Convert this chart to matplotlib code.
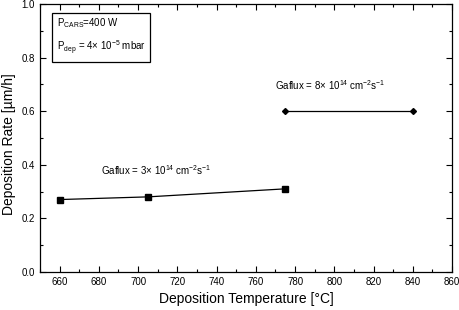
import matplotlib
matplotlib.use("Agg")
import matplotlib.pyplot as plt
from matplotlib.ticker import MultipleLocator

plt.rcParams['font.family'] = ['Liberation Sans', 'DejaVu Sans']
plt.rcParams['mathtext.fontset'] = 'custom'
plt.rcParams['mathtext.rm'] = 'Liberation Sans'

# low Ga flux series
temp_low = [660, 705, 775]
rate_low = [0.27, 0.28, 0.31]
# high Ga flux series
temp_high = [775, 840]
rate_high = [0.60, 0.60]

fig = plt.figure(figsize=(4.59, 3.10), dpi=100)
ax = fig.add_axes([0.087, 0.123, 0.898, 0.864])

ax.plot(temp_low, rate_low, color='black', lw=0.9, marker='s', ms=4)
ax.plot(temp_high, rate_high, color='black', lw=0.9, marker='D', ms=3)

ax.set_xlim(650, 860)
ax.set_ylim(0.0, 1.0)
ax.xaxis.set_major_locator(MultipleLocator(20))
ax.xaxis.set_minor_locator(MultipleLocator(10))
ax.yaxis.set_major_locator(MultipleLocator(0.2))
ax.yaxis.set_minor_locator(MultipleLocator(0.1))
ax.yaxis.set_major_formatter(matplotlib.ticker.FormatStrFormatter('%.1f'))
ax.tick_params(which='both', direction='in', top=True, right=True, labelsize=7, width=0.8)
ax.tick_params(which='major', length=4)
ax.tick_params(which='minor', length=2)
for s in ax.spines.values():
    s.set_linewidth(0.9)

ax.set_xlabel('Deposition Temperature [°C]', fontsize=10)
ax.set_ylabel('Deposition Rate [µm/h]', fontsize=10)
ax.yaxis.set_label_coords(-0.058, 0.476)

ax.text(658.5, 0.955, '$\\mathregular{P_{CARS}}$=400 W\n$\\mathregular{P_{dep}}$ = 4× $\\mathregular{10^{-5}}$ mbar',
        fontsize=7, va='top', linespacing=1.7,
        bbox=dict(boxstyle='square,pad=0.5', fc='white', ec='black', lw=0.9))

ax.text(681, 0.36, 'Gaflux = 3× $\\mathregular{10^{14}}$ $\\mathregular{cm^{-2}s^{-1}}$', fontsize=7)
ax.text(770, 0.68, 'Gaflux = 8× $\\mathregular{10^{14}}$ $\\mathregular{cm^{-2}s^{-1}}$', fontsize=7)

fig.savefig('out.png', dpi=100)
